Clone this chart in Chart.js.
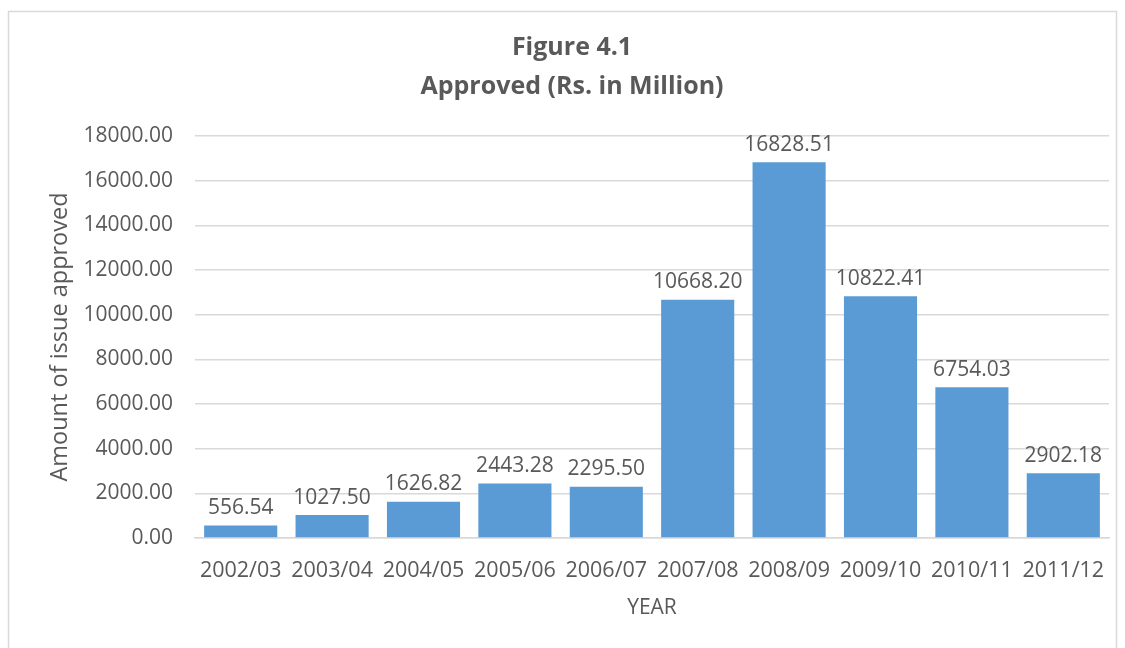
<!DOCTYPE html>
<html>
<head>
<meta charset="utf-8">
<script src="https://cdn.jsdelivr.net/npm/chart.js@4/dist/chart.umd.min.js"></script>
<style>
  html, body { margin: 0; padding: 0; background: #fff; }
  #wrap { position: relative; width: 1125px; height: 648px; }
</style>
</head>
<body>
<div id="wrap"><canvas id="approvedChart" width="1125" height="648"></canvas></div>
<script>
// Approved issues, Rs. in Million
const years = ['2002/03', '2003/04', '2004/05', '2005/06', '2006/07', '2007/08', '2008/09', '2009/10', '2010/11', '2011/12'];
const approved = [556.54, 1027.50, 1626.82, 2443.28, 2295.50, 10668.20, 16828.51, 10822.41, 6754.03, 2902.18];
const yTicks = [0, 2000, 4000, 6000, 8000, 10000, 12000, 14000, 16000, 18000];

const TEXT = '#595959';
const GRID = '#d9d9d9';
const FONT = "'Open Sans', sans-serif";

// light frame around the whole chart
const frame = {
    id: 'frame',
    beforeDraw: (chart) => {
        const ctx = chart.ctx;
        ctx.save();
        ctx.strokeStyle = GRID;
        ctx.lineWidth = 1.5;
        ctx.strokeRect(8.5, 11.5, 1108, 660);
        ctx.restore();
    }
};

// value labels above each bar
const barValues = {
    id: 'barValues',
    afterDatasetsDraw: (chart) => {
        const ctx = chart.ctx;
        const meta = chart.getDatasetMeta(0);
        ctx.save();
        ctx.fillStyle = TEXT;
        ctx.font = "21px " + FONT;
        ctx.textAlign = 'center';
        ctx.textBaseline = 'bottom';
        meta.data.forEach((bar, i) => {
            ctx.fillText(approved[i].toFixed(2), bar.x, bar.y - 7);
        });
        ctx.restore();
    }
};

new Chart(document.getElementById('approvedChart'), {
    type: 'bar',
    data: {
        labels: years,
        datasets: [{
            data: approved,
            backgroundColor: '#5b9bd5',
            barPercentage: 0.8,
            categoryPercentage: 1.0
        }]
    },
    options: {
        responsive: false,
        animation: false,
        // wider left padding so the title sits a little right of centre
        layout: { padding: { top: 11, left: 35, right: 16, bottom: 0 } },
        plugins: {
            legend: { display: false },
            tooltip: { enabled: false },
            title: {
                display: true,
                text: ['Figure 4.1', 'Approved (Rs. in Million)'],
                color: TEXT,
                font: { family: FONT, size: 25, weight: 'bold', lineHeight: 1.56 },
                padding: { top: 17, bottom: 30 }
            }
        },
        scales: {
            x: {
                grid: { display: false, drawTicks: false },
                border: { color: GRID, width: 1.5 },
                ticks: { color: TEXT, font: { family: FONT, size: 21.5 }, padding: 20, maxRotation: 0 },
                title: {
                    display: true, text: 'YEAR', color: TEXT,
                    font: { family: FONT, size: 21 },
                    padding: { top: 4, bottom: 27 }
                },
                afterFit: (s) => { s.height = 110; }
            },
            y: {
                min: 0,
                max: 18000,
                afterBuildTicks: (s) => { s.ticks = yTicks.map(v => ({ value: v })); },
                grid: { color: GRID, lineWidth: 1.5, drawTicks: false },
                border: { display: false },
                ticks: {
                    color: TEXT, font: { family: FONT, size: 21 }, padding: 22,
                    callback: (v) => Number(v).toFixed(2)
                },
                title: {
                    display: true, text: 'Amount of issue approved', color: TEXT,
                    font: { family: FONT, size: 23.5 },
                    padding: { top: 11 }
                },
                afterFit: (s) => { s.width = 160; }
            }
        }
    },
    plugins: [frame, barValues]
});
</script>
</body>
</html>
